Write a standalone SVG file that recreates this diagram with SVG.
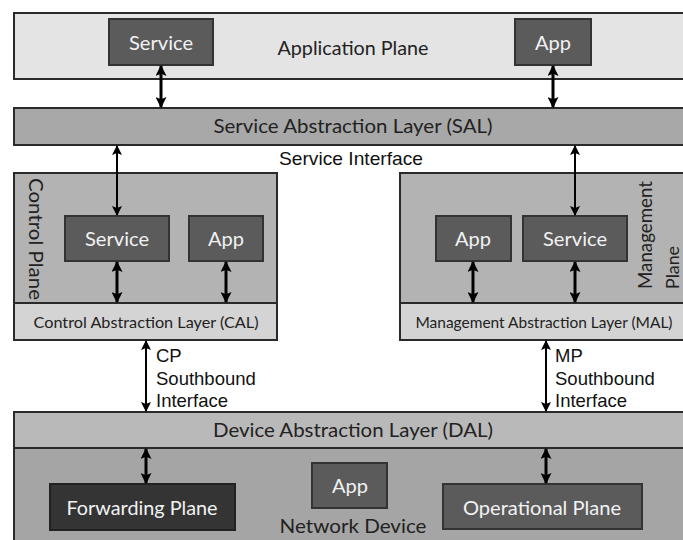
<svg xmlns="http://www.w3.org/2000/svg" width="683" height="540" viewBox="0 0 683 540">
<style>
.frame{stroke:#2a2a2a;stroke-width:2}
.box{fill:#5b5b5b;stroke:#333;stroke-width:2}
.bt{font-family:Lato,"Open Sans",sans-serif;font-size:19px;fill:#f2f2f2;text-anchor:middle}
.lt{font-family:Lato,"Open Sans",sans-serif;fill:#222;text-anchor:middle}
.at{font-family:"Liberation Sans",Arial,sans-serif;font-size:18.5px;fill:#111}
.thick{stroke:#000;stroke-width:3;fill:none;marker-start:url(#ah);marker-end:url(#ah)}
.thin{stroke:#000;stroke-width:2;fill:none;marker-start:url(#ah2);marker-end:url(#ah2)}
</style>
<defs>
<marker id="ah" markerUnits="userSpaceOnUse" viewBox="0 0 10 10" refX="9" refY="5" markerWidth="11" markerHeight="11" orient="auto-start-reverse"><path d="M0,0 L10,5 L0,10 L2,5 Z" fill="#000"/></marker>
<marker id="ah2" markerUnits="userSpaceOnUse" viewBox="0 0 10 10" refX="9" refY="5" markerWidth="10" markerHeight="10" orient="auto-start-reverse"><path d="M0,0 L10,5 L0,10 L2,5 Z" fill="#000"/></marker>
</defs>
<rect width="683" height="540" fill="#fff"/>

<g id="application-plane">
<rect class="frame" x="14" y="13" width="680" height="66" fill="#e4e4e4"/>
<text class="lt" x="353" y="55" font-size="20" textLength="151" lengthAdjust="spacingAndGlyphs">Application Plane</text>
</g>
<g id="app-service">
<rect class="box" x="109" y="19" width="104" height="46"/>
<text class="bt" x="161" y="50" textLength="64" lengthAdjust="spacingAndGlyphs">Service</text>
</g>
<g id="app-app">
<rect class="box" x="515" y="19" width="76" height="46"/>
<text class="bt" x="553" y="50" textLength="36" lengthAdjust="spacingAndGlyphs">App</text>
</g>

<g id="sal">
<rect class="frame" x="14" y="108" width="680" height="37" fill="#a8a8a8"/>
<text class="lt" x="353" y="133" font-size="19" textLength="279" lengthAdjust="spacingAndGlyphs">Service Abstraction Layer (SAL)</text>
</g>
<text class="at" x="351" y="165" text-anchor="middle" textLength="144" lengthAdjust="spacingAndGlyphs">Service Interface</text>

<g id="control-plane">
<rect class="frame" x="14" y="173" width="263" height="167" fill="#b3b3b3"/>
<text class="lt" x="29" y="178" font-size="20" transform="rotate(90 29 178)" style="text-anchor:start" textLength="122" lengthAdjust="spacingAndGlyphs">Control Plane</text>
</g>
<g id="cal">
<rect class="frame" x="14" y="303" width="263" height="37" fill="#d4d4d4"/>
<text class="lt" x="146" y="328" font-size="16" textLength="225" lengthAdjust="spacingAndGlyphs">Control Abstraction Layer (CAL)</text>
</g>
<g id="cp-service">
<rect class="box" x="65" y="216" width="104" height="45"/>
<text class="bt" x="117" y="246" textLength="64" lengthAdjust="spacingAndGlyphs">Service</text>
</g>
<g id="cp-app">
<rect class="box" x="189" y="216" width="74" height="45"/>
<text class="bt" x="226" y="246" textLength="36" lengthAdjust="spacingAndGlyphs">App</text>
</g>

<g id="management-plane">
<rect class="frame" x="400" y="173" width="294" height="167" fill="#b3b3b3"/>
<text class="lt" x="652" y="289" font-size="20" transform="rotate(-90 652 289)" style="text-anchor:start" textLength="108" lengthAdjust="spacingAndGlyphs">Management</text>
<text class="lt" x="679" y="289" font-size="18" transform="rotate(-90 679 289)" style="text-anchor:start" textLength="43" lengthAdjust="spacingAndGlyphs">Plane</text>
</g>
<g id="mal">
<rect class="frame" x="400" y="303" width="294" height="37" fill="#d4d4d4"/>
<text class="lt" x="544" y="328" font-size="15" textLength="257" lengthAdjust="spacingAndGlyphs">Management Abstraction Layer (MAL)</text>
</g>
<g id="mp-app">
<rect class="box" x="436" y="216" width="75" height="45"/>
<text class="bt" x="473" y="246" textLength="36" lengthAdjust="spacingAndGlyphs">App</text>
</g>
<g id="mp-service">
<rect class="box" x="523" y="216" width="104" height="45"/>
<text class="bt" x="575" y="246" textLength="64" lengthAdjust="spacingAndGlyphs">Service</text>
</g>

<g id="cp-sbi-label">
<text class="at" x="156" y="362">CP</text>
<text class="at" x="156" y="385">Southbound</text>
<text class="at" x="156" y="407">Interface</text>
</g>
<g id="mp-sbi-label">
<text class="at" x="555" y="362">MP</text>
<text class="at" x="555" y="385">Southbound</text>
<text class="at" x="555" y="407">Interface</text>
</g>

<g id="network-device">
<rect class="frame" x="14" y="448" width="680" height="100" fill="#a5a5a5"/>
<text class="lt" x="353" y="533" font-size="19" textLength="147" lengthAdjust="spacingAndGlyphs">Network Device</text>
</g>
<g id="dal">
<rect class="frame" x="14" y="412" width="680" height="36" fill="#b9b9b9"/>
<text class="lt" x="353" y="437" font-size="19" textLength="280" lengthAdjust="spacingAndGlyphs">Device Abstraction Layer (DAL)</text>
</g>
<g id="forwarding-plane">
<rect x="50" y="484" width="185" height="46" fill="#343434" stroke="#222" stroke-width="2"/>
<text class="bt" x="142" y="515" textLength="151" lengthAdjust="spacingAndGlyphs">Forwarding Plane</text>
</g>
<g id="device-app">
<rect class="box" x="312" y="463" width="75" height="45" fill="#626262"/>
<text class="bt" x="350" y="493" textLength="36" lengthAdjust="spacingAndGlyphs">App</text>
</g>
<g id="operational-plane">
<rect class="box" x="443" y="484" width="199" height="45" fill="#5e5e5e"/>
<text class="bt" x="542" y="515" textLength="158" lengthAdjust="spacingAndGlyphs">Operational Plane</text>
</g>

<g id="connectors">
<line class="thick" x1="161" y1="66" x2="161" y2="107"/>
<line class="thick" x1="553" y1="66" x2="553" y2="107"/>
<line class="thin" x1="117" y1="146" x2="117" y2="215"/>
<line class="thin" x1="575" y1="146" x2="575" y2="215"/>
<line class="thick" x1="117" y1="262" x2="117" y2="302"/>
<line class="thick" x1="226" y1="262" x2="226" y2="302"/>
<line class="thick" x1="473" y1="262" x2="473" y2="302"/>
<line class="thick" x1="575" y1="262" x2="575" y2="302"/>
<line class="thin" x1="146" y1="341" x2="146" y2="411"/>
<line class="thin" x1="546" y1="341" x2="546" y2="411"/>
<line class="thick" x1="146" y1="449" x2="146" y2="483"/>
<line class="thick" x1="546" y1="449" x2="546" y2="483"/>
</g>
</svg>
